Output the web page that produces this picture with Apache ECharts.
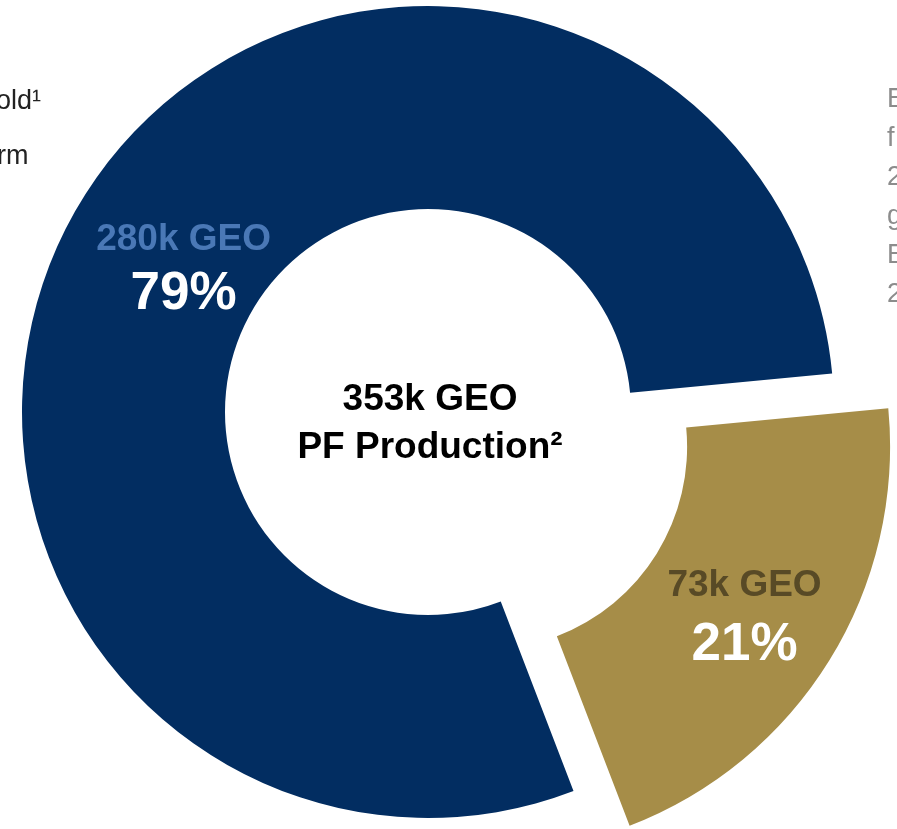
<!DOCTYPE html>
<html lang="en">
<head>
    <meta charset="UTF-8">
    <title>PF Production</title>
    <style>
        html, body { margin: 0; padding: 0; background: #fff; }
        #chart { width: 897px; height: 829px; }
    </style>
</head>
<body>
<div id="chart"></div>
<script src="https://cdn.jsdelivr.net/npm/echarts@6/dist/echarts.min.js"></script>
<script>
    // production split, k GEO
    var names = ['Gold', 'Other'];
    var values = [280, 73];
    var colors = ['#022d61', '#a68d48'];
    var valueColors = ['#4a78b6', '#584a26'];
    var centerLines = ['k GEO', 'PF Production²'];
    var leftLines = ['old¹', 'rm'];
    var rightLines = ['E', 'f', '2', 'g', 'E', '2'];

    var total = values.reduce(function (a, b) { return a + b; }, 0);
    var font = '"Liberation Sans", Arial, sans-serif';
    var labelGap = [55, 59];

    var chart = echarts.init(document.getElementById('chart'));

    var pieData = values.map(function (v, i) {
        return {
            name: names[i],
            value: v,
            selected: i === 1,
            itemStyle: { color: colors[i] },
            label: {
                rich: {
                    a: { color: valueColors[i], fontSize: 37, fontWeight: 'bold', fontFamily: font, lineHeight: labelGap[i] },
                    b: { color: '#fff', fontSize: 53, fontWeight: 'bold', fontFamily: font, lineHeight: labelGap[i] }
                }
            }
        };
    });

    var option = {
        backgroundColor: '#fff',
        animation: false,
        series: [
            {
                type: 'pie',
                center: [428, 412],
                radius: [203, 406],
                startAngle: -69,
                selectedMode: 'single',
                selectedOffset: 66,
                emphasis: { disabled: true },
                label: {
                    show: true,
                    position: 'inside',
                    formatter: function (p) {
                        return '{a|' + p.value + 'k GEO}\n{b|' + Math.round(p.percent) + '%}';
                    }
                },
                labelLine: { show: false },
                labelLayout: function (p) {
                    return p.dataIndex === 0 ? { dx: 17, dy: 17 } : { dx: -1, dy: 7 };
                },
                data: pieData
            }
        ],
        graphic: [
            {
                type: 'text',
                x: 430, y: 376,
                style: {
                    text: total + centerLines[0] + '\n' + centerLines[1],
                    align: 'center',
                    fill: '#000',
                    font: 'bold 37px ' + font,
                    lineHeight: 48
                }
            },
            {
                type: 'text',
                x: -4, y: 88,
                style: {
                    text: leftLines[0],
                    fill: '#222',
                    font: '27px ' + font
                }
            },
            {
                type: 'text',
                x: -3, y: 143,
                style: {
                    text: leftLines[1],
                    fill: '#222',
                    font: '27px ' + font
                }
            },
            {
                type: 'text',
                x: 887, y: 80,
                style: {
                    text: rightLines.join('\n'),
                    fill: '#8c8c8c',
                    font: '27px ' + font,
                    lineHeight: 39
                }
            }
        ]
    };

    chart.setOption(option);
</script>
</body>
</html>
